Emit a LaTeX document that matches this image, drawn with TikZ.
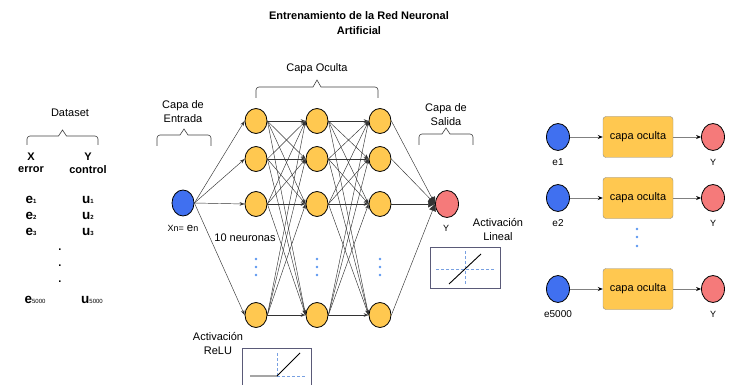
\documentclass[tikz,border=0pt]{standalone}
\usepackage{fontspec}
\setmainfont{Liberation Sans}
\usetikzlibrary{arrows.meta,shapes.geometric}
\definecolor{nblue}{RGB}{64,112,240}
\definecolor{norange}{RGB}{255,200,80}
\definecolor{nred}{RGB}{245,122,122}
\definecolor{dashblue}{RGB}{120,160,225}
\definecolor{dotblue}{RGB}{90,150,240}
\definecolor{boxedge}{RGB}{90,90,120}
\tikzset{
  neu/.style={ellipse,draw=black,line width=0.8pt,inner sep=0pt,minimum width=22pt,minimum height=25pt},
  hid/.style={neu,fill=norange},
  inp/.style={neu,fill=nblue,minimum height=26pt},
  outp/.style={neu,fill=nred,minimum width=23pt,minimum height=27pt},
  conn/.style={draw=black!80,line width=0.45pt,-{Stealth[length=5pt,width=3.5pt]}},
  rconn/.style={draw=black!50,line width=0.7pt,-{Stealth[length=5pt,width=4pt,fill=black,color=black]}},
  lbl/.style={font=\fontsize{11}{14}\selectfont,align=center,inner sep=0pt},
  brc/.style={line width=0.6pt,draw=black!75},
  cbox/.style={draw=black!45,fill=norange,rounded corners=3pt,minimum width=70pt,minimum height=41pt,inner sep=0pt,font=\fontsize{11}{13}\selectfont},
  bdot/.style={circle,fill=dotblue,inner sep=0pt,minimum size=2.8pt},
  dat/.style={font=\bfseries\fontsize{11}{13}\selectfont,inner sep=0pt},
  actbox/.style={draw=boxedge,line width=0.6pt},
  dsh/.style={draw=dashblue,line width=0.6pt,dash pattern=on 3pt off 2pt},
}
% #1 left x, #2 right x, #3 end y, #4 bar y, #5 tip y
\newcommand\capbrace[5]{%
  \draw[brc] (#1,#3) -- (#1,#4+3) arc(180:270:3) -- ({(#1+#2)/2-4},#4) -- ({(#1+#2)/2},#5)
    -- ({(#1+#2)/2+4},#4) -- (#2-3,#4) arc(270:360:3) -- (#2,#3);}
\newcommand\sube[2]{{\fontsize{13.5}{13}\selectfont #1}\raisebox{-0.1ex}{\fontsize{6}{6}\selectfont #2}}
\begin{document}
\begin{tikzpicture}[x=1pt,y=-1pt]
\useasboundingbox (0,0) rectangle (742,385);
% title
\node[lbl,font=\bfseries\fontsize{11}{15}\selectfont] (title) at (359,23) {Entrenamiento de la Red Neuronal\\Artificial};
% dataset
\node[lbl] (dslbl) at (70,113) {Dataset};
\capbrace{27}{98}{145}{136}{130}
\node[dat] (xh) at (31,157) {X};
\node[dat] (yh) at (88,157) {Y};
\node[dat] (xe) at (31,170) {error};
\node[dat] (yc) at (88,170) {control};
\node[dat] (e1) at (31,200) {\sube{e}{1}};
\node[dat] (u1) at (88,200) {\sube{u}{1}};
\node[dat] (e2) at (31,216) {\sube{e}{2}};
\node[dat] (u2) at (88,216) {\sube{u}{2}};
\node[dat] (e3) at (31,232) {\sube{e}{3}};
\node[dat] (u3) at (88,232) {\sube{u}{3}};
\node[dat] (d1) at (60,250) {.};
\node[dat] (d2) at (60,266) {.};
\node[dat] (d3) at (60,282) {.};
\node[dat] (e5) at (35,300) {\sube{e}{\mdseries 5000}};
\node[dat] (u5) at (92,300) {\sube{u}{\mdseries 5000}};
% layer labels
\node[lbl] (entl) at (183,112) {Capa de\\Entrada};
\capbrace{157}{211}{146}{135}{129}
\node[lbl] (ocl) at (317,69) {Capa Oculta};
\capbrace{256}{378}{98}{87}{80}
\node[lbl] (sal) at (446,115) {Capa de\\Salida};
\capbrace{419}{473}{145}{134}{128}
% nodes
\node[inp] (in) at (183,203) {};
\foreach \c/\x in {1/256,2/317,3/380}{
  \node[hid] (h\c a) at (\x,121) {};
  \node[hid] (h\c b) at (\x,159) {};
  \node[hid] (h\c c) at (\x,204) {};
  \node[hid] (h\c d) at (\x,315) {};
  \node[bdot] (p\c a) at (\x,259) {};
  \node[bdot] (p\c b) at (\x,267) {};
  \node[bdot] (p\c c) at (\x,275) {};
}
\node[outp] (out) at (447,204) {};
% connections
\foreach \t in {a,b,c,d}{ \draw[conn] (in.east) -- (h1\t.west); }
\foreach \s in {a,b,c,d}{
  \foreach \t in {a,b,c,d}{
    \draw[conn] (h1\s.east) -- (h2\t.west);
    \draw[conn] (h2\s.east) -- (h3\t.west);
  }
  \draw[conn,-{Triangle[length=7pt,width=7pt]}] (h3\s.east) -- (out.west);
}
\node[lbl] (xn) at (183,228) {{\fontsize{9}{10}\selectfont Xn=} {\fontsize{11.5}{12}\selectfont e}{\fontsize{9}{10}\selectfont n}};
\node[lbl,font=\fontsize{9}{10}\selectfont] (ylab) at (446,228) {Y};
\node[lbl] (neur) at (245,238) {10 neuronas};
% linear activation
\node[lbl] (actl) at (498,230) {Activación\\Lineal};
\coordinate (lb1) at (430,247); \coordinate (lb2) at (500,288);
\draw[actbox] (lb1) rectangle (lb2);
\coordinate (lv1) at (465,251); \coordinate (lv2) at (465,285);
\coordinate (lh1) at (436,269); \coordinate (lh2) at (494,269);
\draw[dsh] (lv1) -- (lv2);
\draw[dsh] (lh1) -- (lh2);
\coordinate (ll1) at (449,284); \coordinate (ll2) at (481,254);
\draw[line width=0.9pt] (ll1) -- (ll2);
% relu activation
\node[lbl] (relul) at (218,344) {Activación\\ReLU};
\coordinate (rb1) at (242,388); \coordinate (rb2) at (242,348); \coordinate (rb3) at (311,348); \coordinate (rb4) at (311,388);
\draw[actbox] (rb1) -- (rb2) -- (rb3) -- (rb4);
\coordinate (rv1) at (277,353); \coordinate (rv2) at (277,376);
\coordinate (rh1) at (277,376); \coordinate (rh2) at (305,376);
\draw[dsh] (rv1) -- (rv2);
\draw[dsh] (rh1) -- (rh2);
\coordinate (rl1) at (250,376); \coordinate (rl2) at (277,376); \coordinate (rl3) at (300,353);
\draw[line width=0.9pt] (rl1) -- (rl2) -- (rl3);
% right side
\foreach \r/\y/\e in {1/137/e1,2/198/e2,3/289/e5000}{
  \node[inp,minimum width=23pt,minimum height=27pt] (re\r) at (558,\y) {};
  \node[cbox] (rc\r) at (638,\y) {capa oculta};
  \node[outp] (ry\r) at (713,\y) {};
  \draw[rconn] (re\r) -- (rc\r);
  \draw[rconn] (rc\r) -- (ry\r);
  \node[lbl,font=\fontsize{10}{11}\selectfont] (rel\r) at (558,\y+25) {\e};
  \node[lbl,font=\fontsize{9}{10}\selectfont] (ryl\r) at (713,\y+25) {Y};
}
\node[bdot] (rd1) at (637,229) {};
\node[bdot] (rd2) at (637,237) {};
\node[bdot] (rd3) at (637,246) {};
\end{tikzpicture}
\end{document}
